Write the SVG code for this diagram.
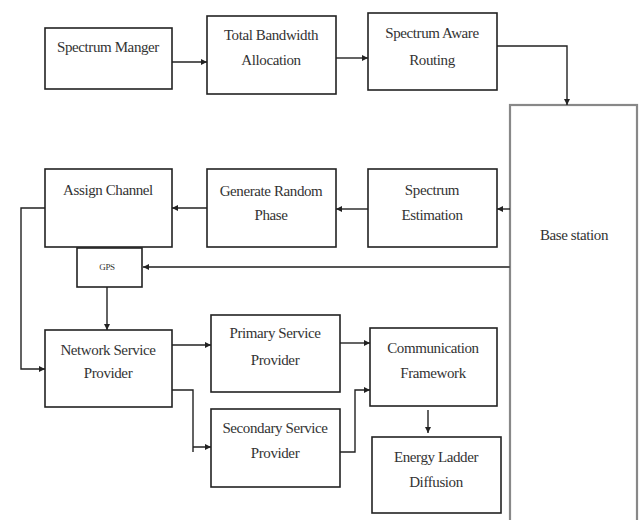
<svg xmlns="http://www.w3.org/2000/svg" width="644" height="520" viewBox="0 0 644 520">
<defs>
<style>
.box{fill:#fff;stroke:#222;stroke-width:1.6}
.bs{fill:#fff;stroke:#888;stroke-width:2.2}
.t{font-family:"Liberation Serif","Times New Roman",serif;font-size:15px;fill:#333;text-anchor:middle;letter-spacing:-0.4px}
.s{font-size:9px}
.c{fill:none;stroke:#222;stroke-width:1.4}
.cg{fill:none;stroke:#555;stroke-width:1.8}
</style>
<marker id="ah" markerWidth="7" markerHeight="7" refX="6" refY="3.5" orient="auto" markerUnits="userSpaceOnUse">
<path d="M0,0.5 L6,3.5 L0,6.5 Z" fill="#222"/>
</marker>
</defs>
<rect width="644" height="520" fill="#fff"/>

<g id="base-station">
<rect class="bs" x="510" y="105" width="127" height="420"/>
<text class="t" x="574" y="240">Base station</text>
</g>

<g id="spectrum-manger">
<rect class="box" x="45" y="28" width="127" height="61"/>
<text class="t" x="108" y="52">Spectrum Manger</text>
</g>
<g id="total-bandwidth">
<rect class="box" x="207" y="16" width="129" height="78"/>
<text class="t" x="271" y="40">Total Bandwidth</text>
<text class="t" x="271" y="65">Allocation</text>
</g>
<g id="spectrum-aware">
<rect class="box" x="368" y="13" width="129" height="77"/>
<text class="t" x="432" y="38">Spectrum Aware</text>
<text class="t" x="432" y="65">Routing</text>
</g>

<g id="assign-channel">
<rect class="box" x="45" y="169" width="127" height="78"/>
<text class="t" x="108" y="195">Assign Channel</text>
</g>
<g id="generate-random">
<rect class="box" x="207" y="169" width="129" height="78"/>
<text class="t" x="271" y="196">Generate Random</text>
<text class="t" x="271" y="220">Phase</text>
</g>
<g id="spectrum-estimation">
<rect class="box" x="368" y="169" width="129" height="78"/>
<text class="t" x="432" y="195">Spectrum</text>
<text class="t" x="432" y="220">Estimation</text>
</g>
<g id="gps">
<rect class="box" x="77" y="248" width="65" height="39"/>
<text class="t s" x="107" y="270">GPS</text>
</g>

<g id="network-service">
<rect class="box" x="45" y="330" width="127" height="77"/>
<text class="t" x="108" y="355">Network Service</text>
<text class="t" x="108" y="378">Provider</text>
</g>
<g id="primary-service">
<rect class="box" x="211" y="315" width="129" height="77"/>
<text class="t" x="275" y="338">Primary Service</text>
<text class="t" x="275" y="365">Provider</text>
</g>
<g id="secondary-service">
<rect class="box" x="211" y="409" width="129" height="78"/>
<text class="t" x="275" y="433">Secondary Service</text>
<text class="t" x="275" y="458">Provider</text>
</g>
<g id="communication-framework">
<rect class="box" x="370" y="328" width="127" height="78"/>
<text class="t" x="433" y="353">Communication</text>
<text class="t" x="433" y="378">Framework</text>
</g>
<g id="energy-ladder">
<rect class="box" x="372" y="437" width="129" height="76"/>
<text class="t" x="436" y="462">Energy Ladder</text>
<text class="t" x="436" y="487">Diffusion</text>
</g>

<g id="connectors">
<path class="c" d="M172,62 H207" marker-end="url(#ah)"/>
<path class="c" d="M336,58 H368" marker-end="url(#ah)"/>
<path class="c" d="M497,46 H567 V105" marker-end="url(#ah)"/>
<path class="c" d="M510,209 H497" marker-end="url(#ah)"/>
<path class="c" d="M368,209 H336" marker-end="url(#ah)"/>
<path class="c" d="M207,208 H172" marker-end="url(#ah)"/>
<path class="cg" d="M510,267 H143" marker-end="url(#ah)"/>
<path class="c" d="M107,287 V330" marker-end="url(#ah)"/>
<path class="c" d="M45,208 H21 V369 H45" marker-end="url(#ah)"/>
<path class="c" d="M172,345 H211" marker-end="url(#ah)"/>
<path class="c" d="M172,390 H193 V452 M193,447 H211" marker-end="url(#ah)"/>
<path class="c" d="M340,343 H370" marker-end="url(#ah)"/>
<path class="c" d="M340,452 H355 V390 H370" marker-end="url(#ah)"/>
<path class="c" d="M428,410 V433" marker-end="url(#ah)"/>
</g>
</svg>
